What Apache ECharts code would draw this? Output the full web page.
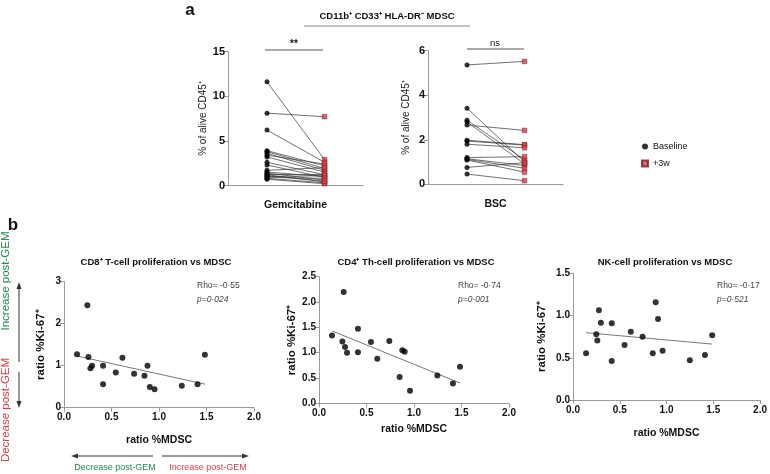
<!DOCTYPE html>
<html><head><meta charset="utf-8">
<script src="https://cdn.jsdelivr.net/npm/echarts@6/dist/echarts.min.js"></script>
<style>html,body{margin:0;padding:0;background:#fff}#c{width:770px;height:474px}</style>
</head><body><div id="c"></div>
<script>
// ---------- data ----------
const groupNames = ['Gemcitabine', 'BSC'];
const gemBaseline = [11.6, 8.1, 6.2, 3.9, 3.8, 3.6, 3.4, 3.2, 2.6, 2.3, 1.7, 1.5, 1.4, 1.3, 1.2, 1.0, 0.9, 0.8, 0.7, 1.1];
const gemPost     = [2.9, 7.7, 2.6, 2.2, 1.9, 1.7, 2.4, 1.5, 1.2, 0.9, 2.0, 1.0, 0.6, 1.3, 0.4, 1.1, 0.8, 0.3, 0.2, 0.5];
const bscBaseline = [5.36, 3.42, 2.88, 2.8, 2.66, 1.98, 1.94, 1.8, 1.2, 1.15, 1.12, 1.09, 0.76, 0.46];
const bscPost     = [5.52, 1.0, 1.1, 0.92, 2.42, 1.78, 1.76, 1.64, 1.24, 0.84, 0.72, 0.55, 0.97, 0.16];
const sigLabels = ['**', 'ns'];

const panelTitles = ['CD8⁺ T-cell proliferation vs MDSC', 'CD4⁺ Th-cell proliferation vs MDSC', 'NK-cell proliferation vs MDSC'];
const mdscCD8 = [0.137, 0.246, 0.257, 0.278, 0.295, 0.411, 0.411, 0.545, 0.615, 0.738, 0.847, 0.879, 0.903, 0.953, 1.24, 1.406, 1.483];
const ki67CD8 = [1.27, 2.44, 1.21, 0.94, 1.0, 1.0, 0.56, 0.84, 1.19, 0.81, 0.76, 1.0, 0.49, 0.44, 0.52, 0.56, 1.26];
const mdscCD4 = [0.137, 0.26, 0.246, 0.274, 0.295, 0.41, 0.41, 0.547, 0.614, 0.74, 0.849, 0.877, 0.902, 0.958, 1.246, 1.41, 1.484];
const ki67CD4 = [1.34, 2.20, 1.22, 1.11, 1.0, 1.47, 1.01, 1.21, 0.88, 1.23, 0.52, 1.05, 1.02, 0.25, 0.55, 0.39, 0.72];
const mdscNK  = [0.14, 0.249, 0.26, 0.277, 0.298, 0.414, 0.414, 0.551, 0.618, 0.744, 0.853, 0.884, 0.909, 0.958, 1.249, 1.411, 1.488];
const ki67NK  = [0.553, 0.778, 0.703, 1.062, 0.916, 0.908, 0.462, 0.651, 0.809, 0.75, 0.553, 1.157, 0.959, 0.584, 0.47, 0.533, 0.766];
const rhoLabels = ['Rho= -0·55', 'Rho= -0·74', 'Rho= -0·17'];
const pLabels = ['p=0·024', 'p=0·001', 'p=0·521'];
const yMaxB = [3, 2.5, 1.5];
const yStepB = [1, 0.5, 0.5];

// ---------- helpers ----------
const FF = '"Liberation Sans", Arial, Helvetica, sans-serif';
const AX = '#9a9a9a';
const RED = '#d8404a';
const GREEN = '#1e8a4c';
const XB = 0.289, XP = 0.715; // x positions of the two time points within group axis

function fit(xs, ys) {
  const n = xs.length;
  const mx = xs.reduce((a, b) => a + b, 0) / n, my = ys.reduce((a, b) => a + b, 0) / n;
  let sxy = 0, sxx = 0;
  for (let i = 0; i < n; i++) { sxy += (xs[i] - mx) * (ys[i] - my); sxx += (xs[i] - mx) ** 2; }
  const b = sxy / sxx, a = my - b * mx;
  const x0 = Math.min(...xs), x1 = Math.max(...xs);
  return [[x0, a + b * x0], [x1, a + b * x1]];
}

const grids = [
  { left: 228, top: 51.5, width: 135, height: 134 },
  { left: 428, top: 50.7, width: 135, height: 133.6 },
  { left: 64, top: 281.7, width: 190, height: 126 },
  { left: 319, top: 276.7, width: 190, height: 126.6 },
  { left: 573, top: 273.3, width: 190, height: 126.7 }
];

const xAxis = [], yAxis = [], series = [];
const pairSets = [[gemBaseline, gemPost], [bscBaseline, bscPost]];
const aMax = [15, 6], aStep = [5, 2], aNameGap = [16, 13];
for (let g = 0; g < 2; g++) {
  xAxis.push({
    gridIndex: g, type: 'value', min: 0, max: 1,
    axisLine: { lineStyle: { color: AX } }, axisTick: { show: false }, axisLabel: { show: false },
    splitLine: { show: false },
    name: groupNames[g], nameLocation: 'middle', nameGap: 14,
    nameTextStyle: { fontFamily: FF, fontWeight: 'bold', fontSize: 10.5, color: '#111' }
  });
  yAxis.push({
    gridIndex: g, type: 'value', min: 0, max: aMax[g], interval: aStep[g],
    axisLine: { show: true, lineStyle: { color: AX } },
    axisTick: { show: true, length: 4, lineStyle: { color: AX } },
    axisLabel: { fontFamily: FF, fontWeight: 'bold', fontSize: 11, color: '#111', margin: 3 },
    splitLine: { show: false },
    name: '% of alive CD45⁺', nameLocation: 'middle', nameGap: aNameGap[g] + 4,
    nameTextStyle: { fontFamily: FF, fontSize: 10, color: '#222' }
  });
  const [b, p] = pairSets[g];
  series.push({
    type: 'lines', coordinateSystem: 'cartesian2d', xAxisIndex: g, yAxisIndex: g, silent: true, z: 1,
    lineStyle: { color: '#333', width: 0.7, opacity: 1 },
    data: b.map((v, i) => ({ coords: [[XB, v], [XP, p[i]]] }))
  });
  series.push({
    name: 'Baseline', type: 'scatter', xAxisIndex: g, yAxisIndex: g, z: 3, symbol: 'circle', symbolSize: 5,
    itemStyle: { color: '#000' }, data: b.map(v => [XB, v])
  });
  series.push({
    name: '+3w', type: 'scatter', xAxisIndex: g, yAxisIndex: g, z: 3, symbol: 'rect', symbolSize: 4.6,
    itemStyle: { color: RED, borderColor: '#7a1a20', borderWidth: 0.6 }, data: p.map(v => [XP, v])
  });
}

const bSets = [[mdscCD8, ki67CD8], [mdscCD4, ki67CD4], [mdscNK, ki67NK]];
const yNameGaps = [17, 20, 25];
const xNameGaps = [27, 20, 28];
for (let k = 0; k < 3; k++) {
  const g = k + 2;
  xAxis.push({
    gridIndex: g, type: 'value', min: 0, max: 2, interval: 0.5,
    axisLine: { lineStyle: { color: AX } },
    axisTick: { show: true, length: 4, lineStyle: { color: AX } },
    axisLabel: { fontFamily: FF, fontWeight: 'bold', fontSize: 10, color: '#111', margin: 5, formatter: v => v.toFixed(1) },
    splitLine: { show: false },
    name: 'ratio %MDSC', nameLocation: 'middle', nameGap: xNameGaps[k],
    nameTextStyle: { fontFamily: FF, fontWeight: 'bold', fontSize: 10.5, color: '#111' }
  });
  yAxis.push({
    gridIndex: g, type: 'value', min: 0, max: yMaxB[k], interval: yStepB[k],
    axisLine: { show: true, lineStyle: { color: AX } },
    axisTick: { show: true, length: 4, lineStyle: { color: AX } },
    axisLabel: { fontFamily: FF, fontWeight: 'bold', fontSize: 10, color: '#111', margin: 3,
      formatter: v => (yStepB[k] < 1 ? v.toFixed(1) : String(v)) },
    splitLine: { show: false },
    name: 'ratio %Ki-67⁺', nameLocation: 'middle', nameGap: yNameGaps[k],
    nameTextStyle: { fontFamily: FF, fontWeight: 'bold', fontSize: 11.5, color: '#111' }
  });
  const [xs, ys] = bSets[k];
  series.push({
    type: 'line', xAxisIndex: g, yAxisIndex: g, silent: true, showSymbol: false, z: 1,
    lineStyle: { color: '#555', width: 0.8 }, data: fit(xs, ys)
  });
  series.push({
    type: 'scatter', xAxisIndex: g, yAxisIndex: g, z: 3, symbolSize: 6,
    itemStyle: { color: '#000' }, data: xs.map((x, i) => [x, ys[i]])
  });
}

// ---------- free text / annotations ----------
function txt(text, x, y, o = {}) {
  return {
    type: 'text', x, y, rotation: o.rot || 0, silent: true,
    style: {
      text, fontFamily: FF, fontSize: o.size || 10, fontWeight: o.bold ? 'bold' : 'normal',
      fontStyle: o.italic ? 'italic' : 'normal', fill: o.color || '#111',
      align: o.align || 'center', verticalAlign: o.va || 'middle',
      textAlign: o.align || 'center', textVerticalAlign: o.va || 'middle'
    }
  };
}
function hline(x1, x2, y, color) {
  return { type: 'line', silent: true, shape: { x1, y1: y, x2, y2: y }, style: { stroke: color || '#555', lineWidth: 1 } };
}
function vline(x, y1, y2, color) {
  return { type: 'line', silent: true, shape: { x1: x, y1, x2: x, y2 }, style: { stroke: color || '#333', lineWidth: 1 } };
}
function head(points) {
  return { type: 'polygon', silent: true, shape: { points }, style: { fill: '#333' } };
}

const gfx = [
  txt('a', 190, 10, { size: 17, bold: true }),
  txt('CD11b⁺ CD33⁺ HLA-DR⁻ MDSC', 387, 16, { size: 9.5, bold: true }),
  hline(304, 470, 26, '#888'),
  txt(sigLabels[0], 294, 44, { size: 10, bold: true }),
  hline(265, 323, 50, '#555'),
  txt(sigLabels[1], 495, 43, { size: 9.5 }),
  hline(467, 524, 49, '#555'),
  txt('b', 13, 225, { size: 17, bold: true })
];
const titleX = [156, 416, 665];
const rhoX = [197, 458, 717];
for (let k = 0; k < 3; k++) {
  gfx.push(txt(panelTitles[k], titleX[k], 262, { size: 9.5, bold: true }));
  gfx.push(txt(rhoLabels[k], rhoX[k], 286, { size: 8.5, color: '#444', align: 'left' }));
  gfx.push(txt(pLabels[k], rhoX[k], 300, { size: 8.5, color: '#444', align: 'left', italic: true }));
}
// bottom arrows
gfx.push(hline(75, 153, 456, '#333'), head([[71, 456], [78, 453.5], [78, 458.5]]));
gfx.push(hline(162, 245, 456, '#333'), head([[249, 456], [242, 453.5], [242, 458.5]]));
gfx.push(txt('Decrease post-GEM', 115, 468, { size: 9, color: GREEN }));
gfx.push(txt('Increase post-GEM', 208, 468, { size: 9, color: RED }));
// vertical arrows
gfx.push(vline(19, 286, 362), head([[19, 282], [16.5, 289], [21.5, 289]]));
gfx.push(vline(19, 372, 404), head([[19, 408], [16.5, 401], [21.5, 401]]));
gfx.push(txt('Increase post-GEM', 6, 281, { size: 11.5, color: GREEN, rot: Math.PI / 2 }));
gfx.push(txt('Decrease post-GEM', 6, 410, { size: 11.5, color: RED, rot: Math.PI / 2 }));

const chart = echarts.init(document.getElementById('c'), null, { renderer: 'canvas' });
chart.setOption({
  animation: false,
  backgroundColor: '#fff',
  grid: grids,
  xAxis, yAxis, series,
  legend: {
    orient: 'vertical', left: 636, top: 137, itemWidth: 6, itemHeight: 6, itemGap: 8,
    textStyle: { fontFamily: FF, fontSize: 9, color: '#111' },
    data: [{ name: 'Baseline', icon: 'circle' }, { name: '+3w', icon: 'rect' }]
  },
  graphic: gfx
});
</script>
</body></html>
